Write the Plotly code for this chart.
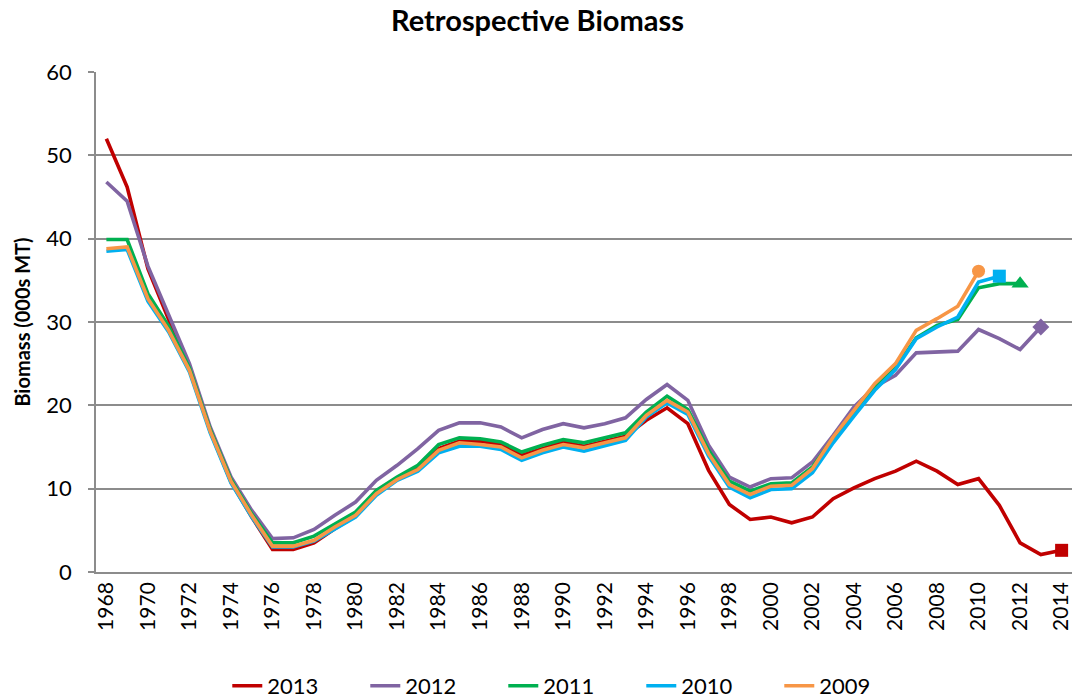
import plotly.graph_objects as go

# Assessment years (x categories)
years = list(range(1968, 2015))

# Retrospective biomass estimates (000s MT), one run per terminal year
b2013 = [52.0, 46.2, 36.4, 30.3, 24.6, 16.9, 10.8, 6.6, 2.7, 2.7, 3.5, 5.2, 6.7, 9.4,
         11.2, 12.5, 14.8, 15.7, 15.7, 15.3, 14.0, 14.8, 15.6, 15.1, 15.7, 16.3, 18.2,
         19.7, 17.8, 12.2, 8.1, 6.3, 6.6, 5.9, 6.6, 8.8, 10.1, 11.2, 12.1, 13.3, 12.1,
         10.5, 11.2, 8.0, 3.5, 2.1, 2.6]
b2012 = [46.8, 44.5, 36.7, 30.8, 25.0, 17.4, 11.4, 7.4, 4.0, 4.1, 5.1, 6.8, 8.4, 11.0,
         12.8, 14.8, 17.0, 17.9, 17.9, 17.4, 16.1, 17.1, 17.8, 17.3, 17.8, 18.5, 20.7,
         22.5, 20.6, 15.2, 11.4, 10.2, 11.2, 11.3, 13.2, 16.4, 19.8, 22.2, 23.6, 26.3,
         26.4, 26.5, 29.1, 28.0, 26.7, 29.4]
b2011 = [39.9, 39.9, 33.4, 29.5, 24.5, 17.1, 11.1, 7.0, 3.5, 3.5, 4.3, 5.8, 7.2, 9.8,
         11.4, 12.8, 15.3, 16.1, 16.0, 15.6, 14.4, 15.2, 15.9, 15.5, 16.1, 16.7, 19.2,
         21.1, 19.5, 14.6, 10.9, 9.7, 10.6, 10.7, 12.6, 16.1, 19.2, 22.1, 24.5, 28.1,
         29.6, 30.3, 34.1, 34.6, 34.6]
b2010 = [38.5, 38.7, 32.5, 28.8, 24.0, 16.7, 10.7, 6.6, 3.0, 3.0, 3.7, 5.2, 6.6, 9.2,
         11.0, 12.1, 14.3, 15.1, 15.1, 14.7, 13.4, 14.3, 15.0, 14.5, 15.2, 15.8, 18.6,
         20.3, 18.9, 13.9, 10.2, 8.9, 9.9, 10.0, 11.9, 15.5, 18.7, 21.8, 24.3, 28.0,
         29.4, 30.6, 34.8, 35.5]
b2009 = [38.8, 39.0, 32.8, 29.0, 24.2, 16.9, 10.9, 6.8, 3.1, 3.1, 3.8, 5.4, 6.8, 9.4,
         11.1, 12.3, 14.6, 15.5, 15.3, 15.0, 13.7, 14.6, 15.3, 14.9, 15.5, 16.1, 18.8,
         20.6, 19.2, 14.2, 10.5, 9.3, 10.3, 10.4, 12.4, 16.2, 19.4, 22.6, 25.0, 29.0,
         30.4, 31.9, 36.1]

series_names = ["2013", "2012", "2011", "2010", "2009"]
series_values = [b2013, b2012, b2011, b2010, b2009]
colors = ["#C00000", "#8064A2", "#00B050", "#00B0F0", "#F79646"]
end_symbols = ["square", "diamond", "triangle-up", "square", "circle"]

FONT = "Lato"
GRID = "#8C8C8C"

fig = go.Figure()
for name, vals, col, sym in zip(series_names, series_values, colors, end_symbols):
    xs = years[:len(vals)]
    fig.add_trace(go.Scatter(
        x=xs, y=vals, name=name, mode="lines",
        line=dict(color=col, width=3.6),
    ))
    # terminal-year marker
    fig.add_trace(go.Scatter(
        x=[xs[-1]], y=[vals[-1]], mode="markers", showlegend=False,
        marker=dict(symbol=sym, color=col, size=13 if sym != "triangle-up" else 15),
        hoverinfo="skip",
    ))

fig.update_layout(
    width=1075, height=700,
    margin=dict(l=96, r=3, t=72, b=128, autoexpand=False),
    paper_bgcolor="white", plot_bgcolor="white",
    font=dict(family=FONT, color="black"),
    title=dict(text="<b>Retrospective Biomass</b>", x=0.5, xanchor="center",
               y=0.97, yanchor="middle", font=dict(size=29, family=FONT)),
    showlegend=True,
    legend=dict(orientation="h", x=0.488, xanchor="center", y=-0.228, yanchor="middle",
                font=dict(size=22, family=FONT), entrywidth=93, entrywidthmode="pixels",
                traceorder="normal"),
)

fig.update_xaxes(
    range=[1967.5, 2014.5], tickmode="array",
    tickvals=list(range(1968, 2015, 2)), ticktext=[str(y) for y in range(1968, 2015, 2)],
    tickangle=-90, tickfont=dict(size=21, family=FONT),
    showgrid=False, showline=True, linecolor=GRID, linewidth=1.5,
    ticks="", zeroline=False, automargin=False,
)
fig.update_yaxes(
    range=[0, 60], dtick=10, tickfont=dict(size=22, family=FONT),
    showgrid=True, gridcolor=GRID, gridwidth=1.5,
    showline=True, linecolor=GRID, linewidth=1.5,
    ticks="outside", ticklen=6, tickcolor=GRID, tickwidth=1.5,
    ticklabelstandoff=12, zeroline=False, automargin=False,
    title=dict(text="<b>Biomass (000s MT)</b>", font=dict(size=20, family=FONT), standoff=10),
)

fig.write_html("out.html")
